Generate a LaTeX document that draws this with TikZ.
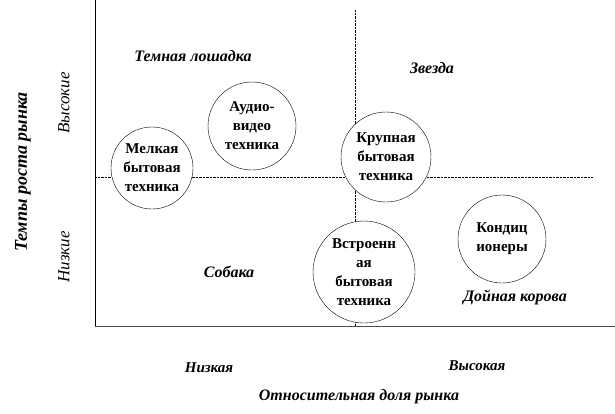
\documentclass[tikz,border=0pt]{standalone}
\usepackage{fontspec}
\setmainfont{Liberation Serif}
\usetikzlibrary{positioning}

\begin{document}
\begin{tikzpicture}[x=1pt,y=-1pt]
		\tikzset{
			segment/.style={circle, draw, thin, fill=white, align=center, inner sep=0pt,
			font=\fontsize{15}{19}\selectfont\bfseries},
			quadrant/.style={font=\fontsize{16}{18}\selectfont\bfseries\itshape},
			level/.style={font=\fontsize{15}{17}\selectfont\bfseries\itshape},
			divider/.style={densely dotted, thin}
		}
		\useasboundingbox (0,0) rectangle (615,413);

		\coordinate (origin) at (95,326);
		\coordinate (ytop) at (95,0);
		\coordinate (xend) at (615,326);
		\coordinate (vtop) at (355,10);
		\coordinate (vbot) at (355,326);
		\coordinate (hleft) at (95,177);
		\coordinate (hright) at (593,177);

		\draw[divider](vtop) -- (vbot);
		\draw[divider](hleft) -- (hright);
		\draw(ytop) -- (origin);
		\draw[black!70, line width=0.8pt](origin) -- (xend);

		\node[segment, minimum size=82pt] (small) at (152,168) {Мелкая \\ бытовая \\ техника};
		\node[segment, minimum size=88pt] (audio) at (252,126) {Аудио- \\ видео \\ техника};
		\node[segment, minimum size=90pt] (large) at (386,157) {Крупная \\ бытовая \\ техника};
		\node[segment, minimum size=102pt] (built) at (364,272) {Встроенн \\ ая \\ бытовая \\ техника};
		\node[segment, minimum size=88pt] (aircon) at (502,239) {Кондиц \\ ионеры};

		\node[quadrant] (horse) at (193,56) {Темная лошадка};
		\node[quadrant] (star) at (432,68) {Звезда};
		\node[quadrant] (dog) at (229,272) {Собака};
		\node[quadrant] (cow) at (515,297) {Дойная корова};

		\node[level] (xlow) at (209,368) {Низкая};
		\node[level] (xhigh) at (477,366) {Высокая};
		\node[quadrant] (xtitle) at (359,397) {Относительная доля рынка};

		\node[level, rotate=90, font=\fontsize{17}{19}\selectfont\itshape] (yhigh) at (64,103) {Высокие};
		\node[level, rotate=90, font=\fontsize{17}{19}\selectfont\itshape] (ylow) at (64,257) {Низкие};
		\node[quadrant, rotate=90, font=\fontsize{18}{20}\selectfont\bfseries\itshape] (ytitle) at (23,172) {Темпы роста рынка};
\end{tikzpicture}
\end{document}
